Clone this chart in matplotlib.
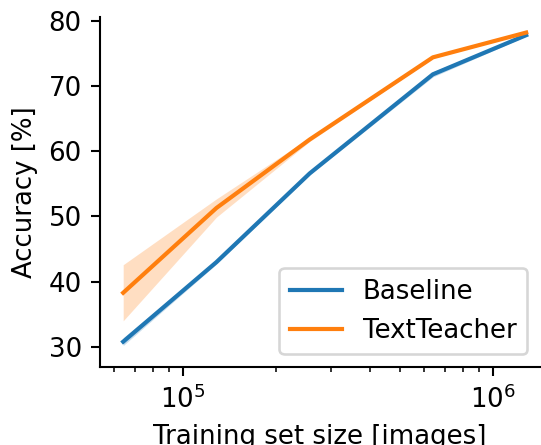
import matplotlib
matplotlib.use("Agg")
import matplotlib.pyplot as plt
import numpy as np

train_size = [64058, 128117, 256233, 640584, 1281167]

baseline_mean = [30.8, 43.0, 56.6, 71.8, 77.8]
baseline_std = [0.6, 0.3, 0.2, 0.4, 0.15]

textteacher_mean = [38.3, 51.3, 61.8, 74.4, 78.2]
textteacher_std = [4.3, 1.4, 0.3, 0.15, 0.1]

series = [
    ("Baseline", baseline_mean, baseline_std, "#1f77b4"),
    ("TextTeacher", textteacher_mean, textteacher_std, "#ff7f0e"),
]

DPI = 187.5


def createGraph():
    fig = plt.figure(figsize=(541 / DPI, 445 / DPI), dpi=DPI)
    ax = fig.add_axes([0.185, 0.175, 0.813, 0.787])

    for name, mean, std, color in series:
        mean = np.array(mean)
        std = np.array(std)
        ax.fill_between(train_size, mean - std, mean + std, color=color,
                        alpha=0.25, linewidth=0)
        ax.plot(train_size, mean, color=color, linewidth=1.6, label=name)

    ax.set_xscale("log")
    ax.set_xlim(10 ** 4.732, 10 ** 6.152)
    ax.set_ylim(26.9, 80.6)
    ax.set_yticks([30, 40, 50, 60, 70, 80])
    ax.spines["top"].set_visible(False)
    ax.spines["right"].set_visible(False)

    ax.set_xlabel("Training set size [images]")
    ax.set_ylabel("Accuracy [%]")
    ax.legend(loc="lower right")

    fig.savefig("out.png", dpi=DPI)


def main():
    createGraph()


if __name__ == "__main__":
    main()
